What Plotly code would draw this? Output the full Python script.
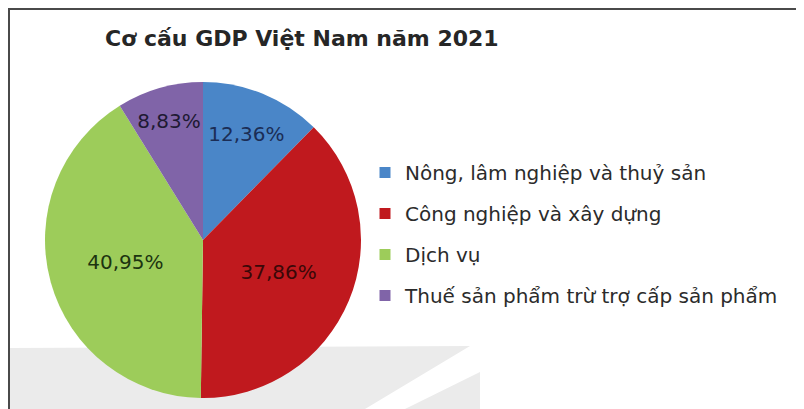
import plotly.graph_objects as go

categories = [
    "Nông, lâm nghiệp và thuỷ sản",
    "Công nghiệp và xây dựng",
    "Dịch vụ",
    "Thuế sản phẩm trừ trợ cấp sản phẩm",
]
values = [12.36, 37.86, 40.95, 8.83]
colors = ["#4a86c8", "#c0191e", "#9dcc5a", "#8064a8"]
label_colors = ["#1b2d55", "#3a0808", "#1c3410", "#1e1a33"]
title_text = "Cơ cấu GDP Việt Nam năm 2021"

# page body has an 8px margin, so the figure is 796x401 starting at (8, 8)
OFF = 8
W, H = 804 - OFF, 409 - OFF
FONT = "DejaVu Sans, Verdana, sans-serif"


def px(x):
    return (x - OFF) / W


def py(y):
    return 1 - (y - OFF) / H


labels_txt = [f"{v:.2f}".replace(".", ",") + "%" for v in values]

fig = go.Figure()

cx, cy, r = 203, 240, 158
fig.add_trace(go.Pie(
    labels=categories,
    values=values,
    text=labels_txt,
    textinfo="text",
    textposition="inside",
    insidetextorientation="horizontal",
    textfont=dict(size=20, color=label_colors, family=FONT),
    marker=dict(colors=colors, line=dict(width=0)),
    sort=False,
    direction="clockwise",
    rotation=0,
    showlegend=False,
    hoverinfo="label+percent",
    domain=dict(x=[px(cx - r), px(cx + r)], y=[py(cy + r), py(cy - r)]),
))

for i, (name, col) in enumerate(zip(categories, colors)):
    fig.add_trace(go.Scatter(
        x=[None], y=[None], mode="markers", name=name,
        marker=dict(symbol="square", size=11, color=col),
        legendgroup=f"g{i}", showlegend=True,
    ))

border = dict(color="#4a4a4a", width=2)
shapes = [
    dict(type="path", xref="paper", yref="paper", layer="below",
         path=f"M 0 {py(348)} L {px(470)} {py(346)} L {px(365)} 0 L 0 0 Z",
         fillcolor="#ebebeb", line=dict(width=0)),
    dict(type="path", xref="paper", yref="paper", layer="below",
         path=f"M {px(480)} {py(372)} L {px(480)} 0 L {px(405)} 0 Z",
         fillcolor="#ebebeb", line=dict(width=0)),
    dict(type="line", xref="paper", yref="paper", layer="above",
         x0=px(9), x1=px(9), y0=0, y1=1, line=border),
    dict(type="line", xref="paper", yref="paper", layer="above",
         x0=px(798), x1=px(798), y0=0, y1=1, line=border),
    dict(type="line", xref="paper", yref="paper", layer="above",
         x0=px(9), x1=px(798), y0=py(9), y1=py(9), line=border),
]

fig.update_layout(
    width=W, height=H,
    margin=dict(l=0, r=0, t=0, b=0),
    paper_bgcolor="white",
    plot_bgcolor="rgba(0,0,0,0)",
    xaxis=dict(visible=False),
    yaxis=dict(visible=False),
    title=dict(text=f"<b>{title_text}</b>", x=px(105), xanchor="left",
               y=py(38), yanchor="middle",
               font=dict(size=22, color="#262626", family=FONT)),
    legend=dict(x=px(365), y=py(153), xanchor="left", yanchor="top",
                font=dict(size=20, color="#2b2b2b", family=FONT),
                tracegroupgap=12, bgcolor="rgba(0,0,0,0)", itemwidth=30),
    shapes=shapes,
)

fig.write_html("out.html")
